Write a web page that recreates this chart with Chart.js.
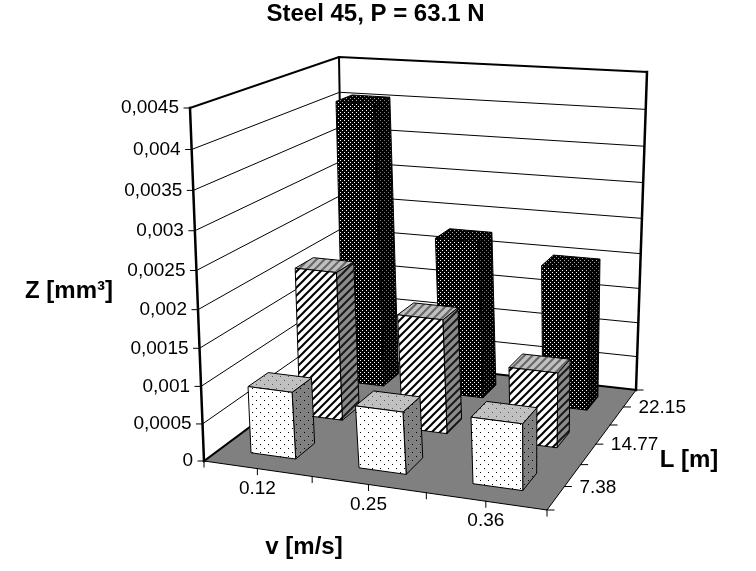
<!DOCTYPE html>
<html>
<head>
<meta charset="utf-8">
<title>Steel 45</title>
<script src="https://cdn.jsdelivr.net/npm/chart.js@4"></script>
<style>
  html, body { margin: 0; padding: 0; background: #fff; }
  canvas { display: block; }
</style>
</head>
<body>
<canvas id="grafico" width="756" height="571"></canvas>
<script>
// Data
const speeds = ['0.12', '0.25', '0.36'];
const distances = ['7.38', '14.77', '22.15'];
const wear738 = [0.0009, 0.00083, 0.00088];
const wear1477 = [0.00207, 0.00158, 0.00103];
const wear2215 = [0.00405, 0.00225, 0.002];

// View of the 3D box: floor and ceiling corners (front-left, front-right, back-right, back-left)
const floorCorners = [[204, 461], [547, 510], [636, 390], [344, 357]];
const topCorners = [[190, 108], [554, 145], [647, 72], [339, 57]];
const barDepth = 0.065;
const heightBend = 0.066;
const labelFont = '19px "Liberation Sans", Arial, sans-serif';
const titleFont = 'bold 24px "Liberation Sans", Arial, sans-serif';

// Maps the unit square onto a quad
function quadMap(q) {
    const [x0, y0] = q[0], [x1, y1] = q[1], [x2, y2] = q[2], [x3, y3] = q[3];
    const dx1 = x1 - x2, dx2 = x3 - x2, sx = x0 - x1 + x2 - x3;
    const dy1 = y1 - y2, dy2 = y3 - y2, sy = y0 - y1 + y2 - y3;
    const den = dx1 * dy2 - dx2 * dy1;
    const g = (sx * dy2 - dx2 * sy) / den;
    const h = (dx1 * sy - sx * dy1) / den;
    const a = x1 - x0 + g * x1, b = x3 - x0 + h * x3;
    const d = y1 - y0 + g * y1, e = y3 - y0 + h * y3;
    return (u, v) => {
        const w = g * u + h * v + 1;
        return [(a * u + b * v + x0) / w, (d * u + e * v + y0) / w];
    };
}

const floorMap = quadMap(floorCorners);
const topMap = quadMap(topCorners);

function project(u, d, z) {
    const p = floorMap(u, d), q = topMap(u, d);
    // heights get slightly larger towards the top of the box
    const t = z / (1 + heightBend * (1 - z));
    return [p[0] + (q[0] - p[0]) * t, p[1] + (q[1] - p[1]) * t];
}

function polygon(ctx, pts, fill, stroke, lineWidth) {
    ctx.beginPath();
    pts.forEach((p, i) => i ? ctx.lineTo(p[0], p[1]) : ctx.moveTo(p[0], p[1]));
    if (fill) {
        ctx.closePath();
        ctx.fillStyle = fill;
        ctx.fill();
    }
    if (stroke) {
        ctx.strokeStyle = stroke;
        ctx.lineWidth = lineWidth || 1;
        ctx.stroke();
    }
}

// Small repeating fills, like the Excel ones
function tile(size, paint) {
    const c = document.createElement('canvas');
    c.width = c.height = size;
    paint(c.getContext('2d'));
    return document.createElement('canvas').getContext('2d').createPattern(c, 'repeat');
}

function dots(size, bg, fg, step) {
    return tile(size, t => {
        t.fillStyle = bg;
        t.fillRect(0, 0, size, size);
        t.fillStyle = fg;
        t.fillRect(0, 0, 1, 1);
        t.fillRect(step, step, 1, 1);
    });
}

function stripes(bg, fg) {
    return tile(8, t => {
        t.fillStyle = bg;
        t.fillRect(0, 0, 8, 8);
        t.strokeStyle = fg;
        t.lineWidth = 2;
        [[-4, 4, 4, -4], [0, 8, 8, 0], [4, 12, 12, 4]].forEach(l => {
            t.beginPath();
            t.moveTo(l[0], l[1]);
            t.lineTo(l[2], l[3]);
            t.stroke();
        });
    });
}

const fills = [
    { front: dots(8, '#fff', '#000', 4), side: dots(8, '#808080', '#000', 4), top: dots(8, '#c0c0c0', '#555', 4) },
    { front: stripes('#fff', '#000'), side: stripes('#8c8c8c', '#1a1a1a'), top: stripes('#c0c0c0', '#666') },
    { front: dots(4, '#000', '#fff', 2), side: dots(4, '#000', '#777', 2), top: dots(4, '#000', '#aaa', 2) }
];

function formatZ(value) {
    return String(+value.toFixed(4)).replace('.', ',');
}

function drawWalls(ctx, yScale) {
    polygon(ctx, [project(0, 0, 0), project(0, 1, 0), project(1, 1, 0), project(1, 0, 0)], '#808080');
    ctx.lineCap = 'square';
    yScale.ticks.forEach(t => {
        const z = yScale.getDecimalForPixel(yScale.getPixelForValue(t.value));
        if (z > 0) {
            const top = z > 0.999;
            polygon(ctx, [project(0, 0, z), project(0, 1, z), project(1, 1, z)], null, '#000', top ? 2 : 1);
        }
        const p = project(0, 0, z);
        polygon(ctx, [[p[0] - 6, p[1]], p], null, '#000', 1);
        ctx.fillStyle = '#000';
        ctx.font = labelFont;
        ctx.textAlign = 'right';
        ctx.textBaseline = 'middle';
        ctx.fillText(formatZ(t.value), p[0] - 11, p[1]);
    });
    polygon(ctx, [project(0, 0, 0), project(0, 0, 1)], null, '#000', 2.5);
    polygon(ctx, [project(0, 1, 0), project(0, 1, 1)], null, '#000', 2);
    polygon(ctx, [project(1, 1, 0), project(1, 1, 1)], null, '#000', 2.5);
    polygon(ctx, [project(0, 0, 0), project(0, 1, 0), project(1, 1, 0)], null, '#000', 2);
    polygon(ctx, [project(0, 0, 0), project(1, 0, 0), project(1, 1, 0)], null, '#000', 1);
}

function drawFloorAxes(ctx, xScale, lScale) {
    ctx.fillStyle = '#000';
    ctx.font = labelFont;
    ctx.textBaseline = 'middle';
    ctx.textAlign = 'center';
    // ticks every half category on both floor edges
    for (let i = 0; i <= 6; i++) {
        const a = project(i / 6, 0, 0);
        polygon(ctx, [a, [a[0], a[1] + 6]], null, '#000', 1);
        const b = project(1, i / 6, 0);
        polygon(ctx, [b, [b[0] + 7, b[1]]], null, '#000', 1);
    }
    speeds.forEach((s, i) => {
        const u = xScale.getDecimalForPixel(xScale.getPixelForValue(i));
        const p = project(u, 0, 0);
        ctx.fillText(xScale.getLabelForValue(i), p[0], p[1] + 20);
    });
    ctx.textAlign = 'left';
    lScale.ticks.forEach((t, i) => {
        const d = lScale.getDecimalForPixel(lScale.getPixelForValue(i));
        const p = project(1, d, 0);
        ctx.fillText(t.label, p[0] + 15, p[1] + 1);
    });
}

function drawBar(ctx, bar, fill, xScale, yScale, d) {
    const u = xScale.getDecimalForPixel(bar.x);
    const half = (bar.width / 2) / xScale.width;
    const z = yScale.getDecimalForPixel(bar.y);
    const u0 = u - half, u1 = u + half, d0 = d - barDepth, d1 = d + barDepth;
    polygon(ctx, [project(u1, d0, 0), project(u1, d1, 0), project(u1, d1, z), project(u1, d0, z)], fill.side, '#000');
    polygon(ctx, [project(u0, d0, z), project(u1, d0, z), project(u1, d1, z), project(u0, d1, z)], fill.top, '#000');
    polygon(ctx, [project(u0, d0, 0), project(u1, d0, 0), project(u1, d0, z), project(u0, d0, z)], fill.front, '#000');
}

// Draws the whole 3D scene from the chart's own scales and bar elements
const escena3d = {
    id: 'escena3d',
    beforeDatasetsDraw(chart) {
        const ctx = chart.ctx;
        const xScale = chart.scales.x, yScale = chart.scales.y, lScale = chart.scales.L;
        ctx.save();
        drawWalls(ctx, yScale);
        drawFloorAxes(ctx, xScale, lScale);
        ctx.lineCap = 'butt';
        for (let i = chart.data.datasets.length - 1; i >= 0; i--) {
            const d = lScale.getDecimalForPixel(lScale.getPixelForValue(i));
            chart.getDatasetMeta(i).data.forEach(bar => drawBar(ctx, bar, fills[i], xScale, yScale, d));
        }
        // axis titles
        ctx.fillStyle = '#000';
        ctx.font = titleFont;
        ctx.textBaseline = 'middle';
        ctx.textAlign = 'center';
        ctx.fillText('Z [mm³]', 69, 291);
        ctx.fillText('v [m/s]', 304, 547);
        ctx.fillText('L [m]', 689, 460);
        ctx.restore();
        return false;
    }
};

new Chart(document.getElementById('grafico'), {
    type: 'bar',
    data: {
        labels: speeds,
        datasets: [
            { label: distances[0], data: wear738 },
            { label: distances[1], data: wear1477 },
            { label: distances[2], data: wear2215 }
        ]
    },
    options: {
        responsive: false,
        animation: false,
        grouped: false,
        categoryPercentage: 1,
        barPercentage: 0.42,
        layout: { padding: { left: 204, right: 209, top: 0, bottom: 110 } },
        scales: {
            x: { display: false },
            y: { display: false, min: 0, max: 0.0045, ticks: { stepSize: 0.0005 } },
            L: { type: 'category', labels: distances, axis: 'y', position: 'right', display: false, offset: true }
        },
        plugins: {
            legend: { display: false },
            tooltip: { enabled: false },
            title: {
                display: true,
                text: 'Steel 45, P = 63.1 N',
                color: '#000',
                font: { family: '"Liberation Sans", Arial, sans-serif', size: 24, weight: 'bold' },
                padding: { top: 0, bottom: 79.2 }
            }
        }
    },
    plugins: [escena3d]
});
</script>
</body>
</html>
